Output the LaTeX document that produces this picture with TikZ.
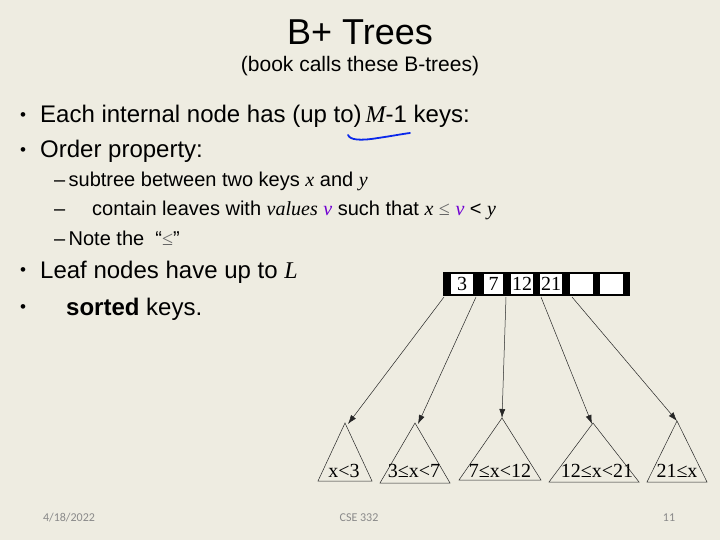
\documentclass[tikz,border=0pt]{standalone}
\usepackage{fontspec}
\setmainfont{Liberation Sans}
\newfontfamily\tnr{Liberation Serif}
\newfontfamily\footfont{Carlito}
\usetikzlibrary{arrows.meta}
\definecolor{slidebg}{RGB}{238,236,225}
\definecolor{inkblue}{RGB}{10,40,235}
\definecolor{vpurple}{RGB}{112,0,210}
\definecolor{footgray}{RGB}{137,137,137}
\tikzset{
  >={Latex[length=9pt,width=6pt]},
}
\tikzstyle{every node}=[inner sep=0pt,anchor=base west]
\tikzstyle{dot}=[font=\fontsize{17}{20}\selectfont]
\tikzstyle{bigtext}=[font=\fontsize{24}{28}\selectfont]
\tikzstyle{subtext}=[font=\fontsize{20}{24}\selectfont]
\tikzstyle{foot}=[font=\footfont\fontsize{12}{14}\selectfont,footgray,anchor=base]
\tikzstyle{key}=[font=\tnr\fontsize{20}{24}\selectfont,fill=white,anchor=center,minimum height=20pt]
\tikzstyle{leaf}=[font=\tnr\fontsize{20}{24}\selectfont,anchor=base]
\tikzstyle{pointer}=[->,line width=0.5pt,black!85]
\tikzstyle{subtree}=[line width=0.5pt,black!85]
\newcommand{\itm}[1]{{\tnr\itshape #1}}

\begin{document}
\begin{tikzpicture}[x=1pt,y=-1pt]
  \fill[slidebg] (0,0) rectangle (720,540);
  \useasboundingbox (0,0) rectangle (720,540);
  % title
  \node[font=\fontsize{36}{42}\selectfont,anchor=base] (title) at (360,45) {B+ Trees};
  \node[font=\fontsize{21}{25}\selectfont,anchor=base] (subtitle) at (360,72) {(book calls these B-trees)};
  % bullets
  \node[dot] (d1) at (20,120.5) {•};
  \node[bigtext] (l1) at (40,123) {Each internal node has (up to)\,\itm{M}-1 keys:};
  \node[dot] (d2) at (20,155.5) {•};
  \node[bigtext] (l2) at (40,158) {Order property:};
  \node[subtext] (s1) at (54,187) {–\,subtree between two keys \itm{x} and \itm{y}};
  \node[subtext] (s2a) at (54,215) {–};
  \node[subtext] (s2) at (92,215) {contain leaves with \itm{values} \textcolor{vpurple}{\itm{v}} such that \itm{x} {\tnr\textcolor{black!60}{≤}} \textcolor{vpurple}{\itm{v}} < \itm{y}};
  \node[subtext] (s3) at (54,245) {–\,Note the \ “{\tnr\textcolor{black!60}{≤}}”};
  \node[dot] (d3) at (20,275.5) {•};
  \node[bigtext] (l3) at (40,278) {Leaf nodes have up to \itm{L}};
  \node[dot] (d4) at (20,312.5) {•};
  \node[bigtext] (l4) at (66,315) {\textbf{sorted} keys.};
  % ink mark
  \draw[inkblue,line width=1.8pt,line cap=round] (348,135) .. controls (350,140) and (360,141) .. (378,138) .. controls (392,136) and (402,134) .. (410,133);
  % internal node
  \node[fill=black,anchor=center,minimum width=187pt,minimum height=24pt] (keys) at (536.5,284) {};
  \node[key,minimum width=22pt] (c1) at (462,284) {3};
  \node[key,minimum width=19pt] (c2) at (493.5,284) {7};
  \node[key,minimum width=22pt] (c3) at (522,284) {12};
  \node[key,minimum width=22pt] (c4) at (551,284) {21};
  \node[key,minimum width=23pt] (c5) at (581.5,284) {};
  \node[key,minimum width=23pt] (c6) at (611.5,284) {};
  \coordinate (p1) at (444,297);
  \coordinate (p2) at (476,297);
  \coordinate (p3) at (506,297);
  \coordinate (p4) at (541,297);
  \coordinate (p5) at (572,297);
  % subtrees
  \coordinate (t1) at (345,423);
  \coordinate (t2) at (415,423);
  \coordinate (t3) at (502,418);
  \coordinate (t4) at (593,423);
  \coordinate (t5) at (677,421);
  \draw[subtree] (t1) -- (318,481) -- (372,481) -- cycle;
  \draw[subtree] (t2) -- (380,483) -- (450,483) -- cycle;
  \draw[subtree] (t3) -- (459,480) -- (541,480) -- cycle;
  \draw[subtree] (t4) -- (549,482) -- (639,482) -- cycle;
  \draw[subtree] (t5) -- (647,482) -- (707,482) -- cycle;
  \node[leaf] (r1) at (344,477) {x<3};
  \node[leaf] (r2) at (414,477) {3≤x<7};
  \node[leaf] (r3) at (500,477) {7≤x<12};
  \node[leaf] (r4) at (597,477) {12≤x<21};
  \node[leaf] (r5) at (677,477) {21≤x};
  \draw[pointer] (p1) -- ([xshift=3pt,yshift=-1pt]t1);
  \draw[pointer] (p2) -- ([xshift=3pt,yshift=-1pt]t2);
  \draw[pointer] (p3) -- (t3);
  \draw[pointer] (p4) -- ([xshift=-1pt,yshift=-1pt]t4);
  \draw[pointer] (p5) -- (t5);
  % footer
  \node[foot] (date) at (69,521) {4/18/2022};
  \node[foot] (course) at (359,521) {CSE 332};
  \node[foot] (page) at (669,521) {11};
\end{tikzpicture}
\end{document}
